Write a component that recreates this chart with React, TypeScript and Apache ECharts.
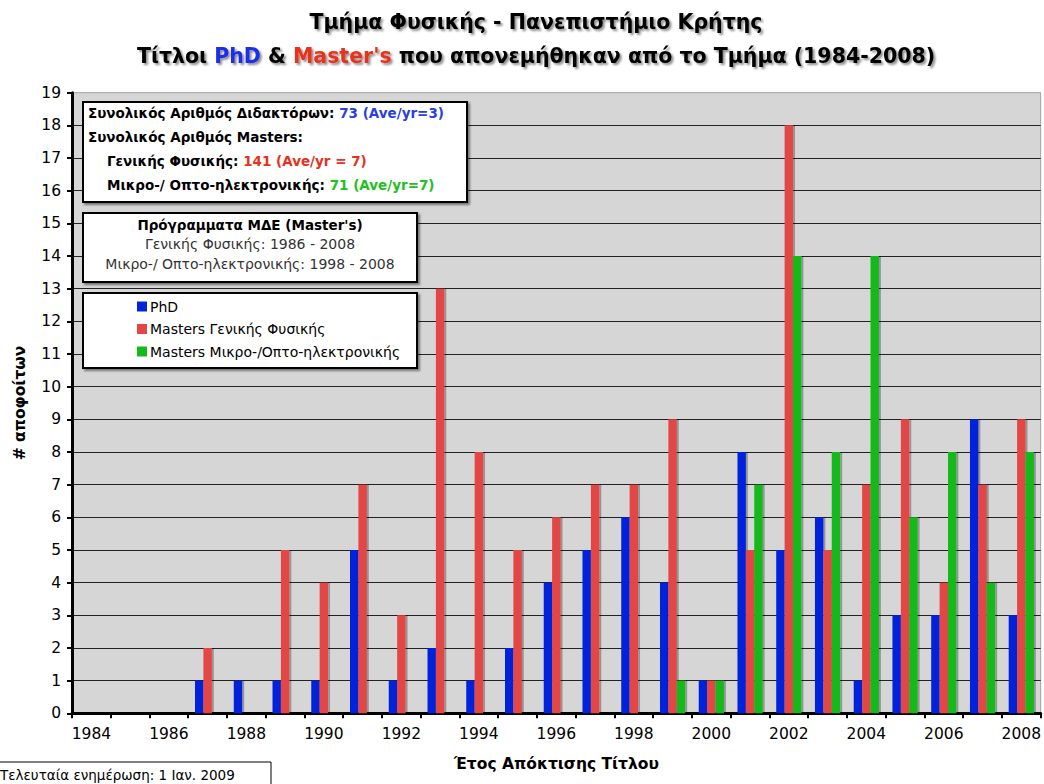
import React, { useEffect, useRef } from "react";
import * as echarts from "echarts";

const years = ["1984","1985","1986","1987","1988","1989","1990","1991","1992","1993","1994","1995","1996","1997","1998","1999","2000","2001","2002","2003","2004","2005","2006","2007","2008"];
const phd = [0,0,0,1,1,1,1,5,1,2,1,2,4,5,6,4,1,8,5,6,1,3,3,9,3];
const mastersGeneral = [0,0,0,2,0,5,4,7,3,13,8,5,6,7,7,9,1,5,18,5,7,9,4,7,9];
const mastersMicro = [0,0,0,0,0,0,0,0,0,0,0,0,0,0,0,1,1,7,14,8,14,6,8,4,8];
const seriesNames = ["PhD", "Masters Γενικής Φυσικής", "Masters Μικρο-/Οπτο-ηλεκτρονικής"];
const seriesColors = ["#0524da", "#e34644", "#14b91c"];

const FONT = "DejaVu Sans, Verdana, sans-serif";

export default function App() {
  const ref = useRef<HTMLDivElement>(null);
  useEffect(() => {
    if (!ref.current) return;
    const chart = echarts.init(ref.current, null, { renderer: "svg" });
    const shadowTitle = { textShadowColor: "rgba(0,0,0,0.45)", textShadowOffsetX: 2, textShadowOffsetY: 2, textShadowBlur: 2 };
    const boxStyle = { fill: "#fff", stroke: "#000", lineWidth: 2, shadowColor: "rgba(0,0,0,0.45)", shadowOffsetX: 2, shadowOffsetY: 2, shadowBlur: 2 };
    const infoRich = (color: string) => ({
      k: { fontFamily: FONT, fontWeight: "bold", fontSize: 13.5, fill: "#000" },
      v: { fontFamily: FONT, fontWeight: "bold", fontSize: 13.5, fill: color },
    });
    const datasets = [phd, mastersGeneral, mastersMicro];
    chart.setOption({
      animation: false,
      backgroundColor: "#fff",
      grid: {
        left: 72, right: 2.5, top: 92.7, bottom: 70.7,
        show: true, backgroundColor: "#d6d6d6", borderColor: "#a0a0a0", borderWidth: 1,
      },
      legend: {
        orient: "vertical",
        left: 137, top: 298,
        padding: 0,
        itemWidth: 10, itemHeight: 10, itemGap: 5.5,
        icon: "rect",
        z: 10,
        textStyle: { fontFamily: FONT, fontSize: 14, color: "#000", lineHeight: 17, padding: [0, 0, 0, -2] },
        data: seriesNames,
      },
      xAxis: {
        type: "category",
        data: years,
        name: "Έτος Απόκτισης Τίτλου",
        nameLocation: "middle",
        nameGap: 43,
        nameTextStyle: { fontFamily: FONT, fontWeight: "bold", fontSize: 15.5, color: "#000" },
        axisLine: { lineStyle: { color: "#000", width: 3 } },
        axisTick: { show: true, interval: 0, alignWithLabel: false, length: 5, lineStyle: { color: "#000", width: 2 } },
        axisLabel: { interval: 1, margin: 13, fontFamily: FONT, fontSize: 15.5, color: "#000" },
      },
      yAxis: {
        type: "value",
        min: 0, max: 19, interval: 1,
        name: "# αποφοίτων",
        nameLocation: "middle",
        nameGap: 44,
        nameTextStyle: { fontFamily: FONT, fontWeight: "bold", fontSize: 15.5, color: "#000" },
        axisLine: { show: true, lineStyle: { color: "#000", width: 3 } },
        axisTick: { show: true, length: 5, lineStyle: { color: "#000", width: 2 } },
        axisLabel: { margin: 11, fontFamily: FONT, fontSize: 15.5, color: "#000" },
        splitLine: { show: true, showMaxLine: false, showMinLine: false, lineStyle: { color: "#222", width: 1 } },
      },
      series: datasets.map((d, i) => ({
        name: seriesNames[i],
        type: "bar",
        data: d,
        barGap: "0%",
        barCategoryGap: "35%",
        itemStyle: {
          color: seriesColors[i],
          shadowColor: "rgba(0,0,0,0.3)", shadowOffsetX: 2, shadowOffsetY: 0, shadowBlur: 1,
        },
      })),
      graphic: [
        {
          type: "text", z: 20,
          x: 536, y: 22,
          style: {
            text: "Τμήμα Φυσικής - Πανεπιστήμιο Κρήτης",
            align: "center", verticalAlign: "middle",
            fontFamily: FONT, fontWeight: "bold", fontSize: 20.5, fill: "#000",
            ...shadowTitle,
          },
        },
        {
          type: "text", z: 20,
          x: 536, y: 56,
          style: {
            text: "{k|Τίτλοι }{b|PhD}{k| & }{r|Master's}{k| που απονεμήθηκαν από το Τμήμα (1984-2008)}",
            align: "center", verticalAlign: "middle",
            rich: {
              k: { fontFamily: FONT, fontWeight: "bold", fontSize: 20.5, fill: "#000", ...shadowTitle },
              b: { fontFamily: FONT, fontWeight: "bold", fontSize: 20.5, fill: "#1a2fe6", ...shadowTitle },
              r: { fontFamily: FONT, fontWeight: "bold", fontSize: 20.5, fill: "#e8301c", ...shadowTitle },
            },
          },
        },
        { type: "rect", z: 5, shape: { x: 83, y: 102, width: 384, height: 100 }, style: boxStyle },
        { type: "rect", z: 5, shape: { x: 83, y: 213, width: 334, height: 69 }, style: boxStyle },
        { type: "rect", z: 5, shape: { x: 83, y: 293, width: 334, height: 75 }, style: boxStyle },
        {
          type: "text", z: 11, x: 88, y: 113,
          style: { text: "{k|Συνολικός Αριθμός Διδακτόρων: }{v|73 (Ave/yr=3)}", verticalAlign: "middle", rich: infoRich("#2a3fe0") },
        },
        {
          type: "text", z: 11, x: 88, y: 137,
          style: { text: "{k|Συνολικός Αριθμός Masters:}", verticalAlign: "middle", rich: infoRich("#000") },
        },
        {
          type: "text", z: 11, x: 107, y: 161,
          style: { text: "{k|Γενικής Φυσικής: }{v|141 (Ave/yr = 7)}", verticalAlign: "middle", rich: infoRich("#e8301c") },
        },
        {
          type: "text", z: 11, x: 107, y: 185,
          style: { text: "{k|Μικρο-/ Οπτο-ηλεκτρονικής: }{v|71 (Ave/yr=7)}", verticalAlign: "middle", rich: infoRich("#22c022") },
        },
        {
          type: "text", z: 11, x: 250, y: 225,
          style: { text: "Πρόγραμματα ΜΔΕ (Master's)", align: "center", verticalAlign: "middle", fontFamily: FONT, fontWeight: "bold", fontSize: 13.5, fill: "#000" },
        },
        {
          type: "text", z: 11, x: 250, y: 244,
          style: { text: "Γενικής Φυσικής: 1986 - 2008", align: "center", verticalAlign: "middle", fontFamily: FONT, fontSize: 14, fill: "#333" },
        },
        {
          type: "text", z: 11, x: 250, y: 264,
          style: { text: "Μικρο-/ Οπτο-ηλεκτρονικής: 1998 - 2008", align: "center", verticalAlign: "middle", fontFamily: FONT, fontSize: 14, fill: "#333" },
        },
        { type: "rect", z: 5, shape: { x: -2, y: 762, width: 273, height: 30 }, style: { fill: "#fff", stroke: "#000", lineWidth: 1 } },
        {
          type: "text", z: 11, x: 0, y: 775,
          style: { text: "Τελευταία ενημέρωση: 1 Ιαν. 2009", verticalAlign: "middle", fontFamily: FONT, fontSize: 13.5, fill: "#000" },
        },
      ],
    });
    return () => chart.dispose();
  }, []);
  return <div ref={ref} style={{ position: "absolute", left: 0, top: 0, width: 1044, height: 784 }} />;
}
